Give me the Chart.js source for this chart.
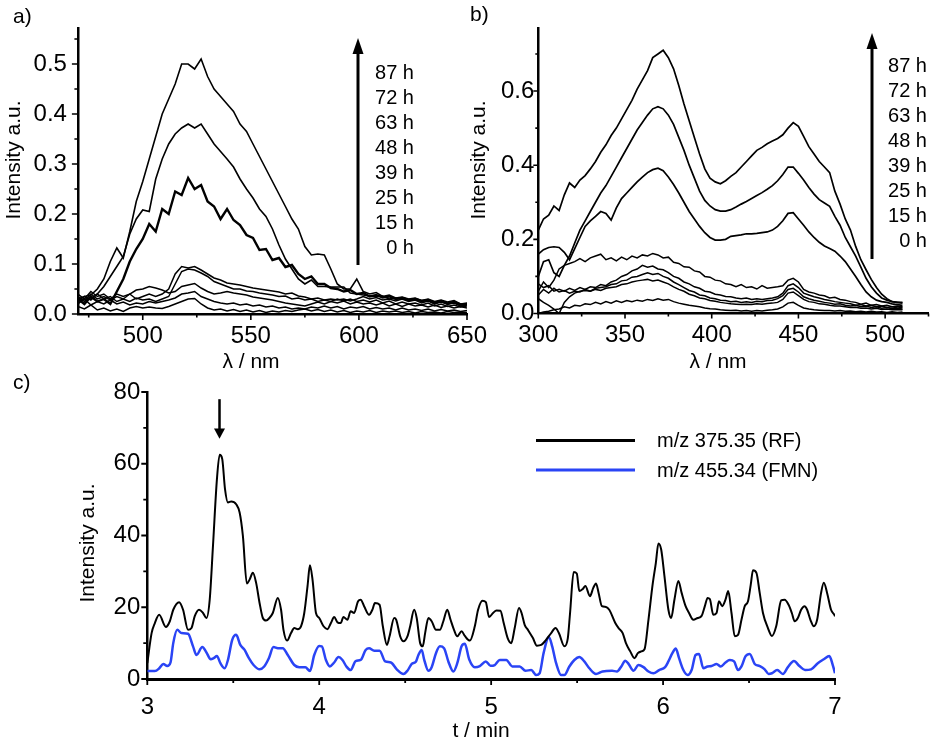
<!DOCTYPE html>
<html><head><meta charset="utf-8">
<script src="https://cdn.jsdelivr.net/npm/chart.js@4.4.1/dist/chart.umd.min.js"></script>
<style>
html,body{margin:0;padding:0;background:#fff;width:933px;height:742px;overflow:hidden;position:relative;}
canvas{position:absolute;}
.t{position:absolute;font-family:"Liberation Sans",Arial,sans-serif;color:#000;white-space:nowrap;line-height:1;}
.c{transform:translate(-50%,-50%);}
.r{transform:translate(-50%,-50%) rotate(-90deg);}
.lab{position:absolute;font-family:"Liberation Sans",Arial,sans-serif;font-size:20px;line-height:25px;text-align:right;}
svg{position:absolute;left:0;top:0;}
</style></head><body>
<canvas id="ca" width="500" height="380" style="left:0;top:0"></canvas>
<canvas id="cb" width="473" height="380" style="left:460px;top:0"></canvas>
<canvas id="cc" width="933" height="372" style="left:0;top:370px"></canvas>
<svg width="933" height="742">
  <line x1="358" y1="265" x2="358" y2="50" stroke="#000" stroke-width="3"/>
  <polygon points="358,38 352.5,54 363.5,54" fill="#000"/>
  <line x1="872" y1="259" x2="872" y2="45" stroke="#000" stroke-width="3"/>
  <polygon points="872,33 866.5,49 877.5,49" fill="#000"/>
  <line x1="536" y1="440.5" x2="635" y2="440.5" stroke="#000" stroke-width="3"/>
  <line x1="536" y1="470" x2="635" y2="470" stroke="#2a44f5" stroke-width="3"/>
</svg>
<div class="t" style="left:13px;top:5px;font-size:21px">a)</div>
<div class="t" style="left:470px;top:3px;font-size:21px">b)</div>
<div class="t" style="left:13px;top:371px;font-size:21px">c)</div>
<div class="t r" style="left:12px;top:160px;font-size:21px">Intensity a.u.</div>
<div class="t r" style="left:477px;top:160px;font-size:21px">Intensity a.u.</div>
<div class="t r" style="left:86px;top:543px;font-size:21px">Intensity a.u.</div>
<div class="t c" style="left:251px;top:360px;font-size:21px">λ / nm</div>
<div class="t c" style="left:718px;top:360px;font-size:21px">λ / nm</div>
<div class="t c" style="left:481px;top:729px;font-size:21px">t / min</div>
<div class="lab" style="left:0;width:414px;top:59.5px">87 h<br>72 h<br>63 h<br>48 h<br>39 h<br>25 h<br>15 h<br>0 h</div>
<div class="lab" style="left:460px;width:467px;top:53px">87 h<br>72 h<br>63 h<br>48 h<br>39 h<br>25 h<br>15 h<br>0 h</div>
<div class="t" style="left:657px;top:430px;font-size:20px">m/z 375.35 (RF)</div>
<div class="t" style="left:657px;top:460px;font-size:20px">m/z 455.34 (FMN)</div>
<script>
// ---------- Panel a: emission spectra ----------
const lambdaA = [470,473,476,479,482,485,488,491,494,497,500,503,506,509,512,515,518,521,524,527,530,533,536,539,542,545,548,551,554,557,560,563,566,569,572,575,578,581,584,587,590,593,596,599,602,605,608,611,614,617,620,623,626,629,632,635,638,641,644,647,650];
const a87 = [0.03,0.035,0.038,0.05,0.07,0.105,0.132,0.112,0.165,0.225, 0.265,0.31,0.355,0.40,0.43,0.46,0.50,0.50,0.49,0.51, 0.475,0.45,0.435,0.42,0.405,0.38,0.365,0.34,0.315,0.29, 0.265,0.24,0.215,0.19,0.17,0.135,0.118,0.12,0.118,0.09, 0.06,0.05,0.05,0.07,0.045,0.04,0.043,0.035,0.038,0.032, 0.034,0.03,0.032,0.027,0.03,0.025,0.028,0.024,0.027,0.02,0.022];
const a72 = [0.025,0.03,0.03,0.04,0.055,0.075,0.095,0.115,0.16,0.19, 0.208,0.205,0.27,0.31,0.34,0.36,0.372,0.38,0.372,0.38, 0.36,0.34,0.325,0.31,0.294,0.27,0.25,0.232,0.21,0.195, 0.17,0.138,0.11,0.09,0.07,0.06,0.068,0.055,0.055,0.054, 0.054,0.054,0.042,0.04,0.038,0.036,0.035,0.036,0.03,0.032, 0.03,0.028,0.03,0.026,0.028,0.024,0.026,0.022,0.025,0.02,0.02];
const a63 = [0.03,0.02,0.035,0.025,0.03,0.02,0.045,0.07,0.105,0.13, 0.15,0.18,0.165,0.21,0.2,0.245,0.238,0.272,0.25,0.258, 0.225,0.215,0.19,0.21,0.188,0.178,0.158,0.152,0.128,0.13, 0.108,0.112,0.094,0.098,0.08,0.07,0.075,0.06,0.06,0.052, 0.05,0.045,0.048,0.04,0.042,0.035,0.038,0.033,0.035,0.03, 0.032,0.028,0.03,0.026,0.028,0.022,0.026,0.02,0.024,0.018,0.02];
const a48 = [0.04,0.03,0.045,0.035,0.04,0.03,0.04,0.035,0.04,0.03, 0.035,0.04,0.035,0.04,0.05,0.08,0.095,0.092,0.095,0.088, 0.08,0.072,0.068,0.062,0.06,0.058,0.055,0.052,0.05,0.048, 0.046,0.044,0.04,0.042,0.036,0.034,0.03,0.032,0.028,0.03, 0.028,0.03,0.026,0.03,0.035,0.03,0.033,0.028,0.03,0.026, 0.03,0.025,0.028,0.022,0.026,0.02,0.024,0.02,0.022,0.016,0.018];
const a39 = [0.025,0.035,0.028,0.04,0.03,0.035,0.025,0.03,0.025,0.032, 0.028,0.03,0.025,0.03,0.035,0.06,0.085,0.09,0.088,0.082, 0.075,0.065,0.06,0.055,0.05,0.05,0.046,0.045,0.042,0.04, 0.038,0.035,0.036,0.03,0.032,0.028,0.03,0.025,0.028,0.025, 0.03,0.026,0.03,0.025,0.028,0.024,0.028,0.022,0.026,0.02, 0.024,0.02,0.022,0.018,0.022,0.016,0.02,0.015,0.018,0.014,0.016];
const a25 = [0.035,0.025,0.04,0.03,0.035,0.028,0.035,0.03,0.04,0.048, 0.05,0.055,0.052,0.048,0.042,0.045,0.055,0.058,0.061,0.052, 0.045,0.04,0.042,0.045,0.042,0.04,0.038,0.034,0.032,0.03, 0.028,0.025,0.022,0.02,0.018,0.016,0.02,0.024,0.02,0.025, 0.022,0.026,0.02,0.024,0.02,0.022,0.018,0.022,0.016,0.02, 0.015,0.02,0.016,0.018,0.014,0.018,0.013,0.016,0.012,0.015,0.012];
const a15 = [0.02,0.03,0.018,0.025,0.02,0.028,0.02,0.024,0.018,0.022, 0.02,0.025,0.022,0.025,0.028,0.032,0.04,0.042,0.045,0.035, 0.03,0.025,0.022,0.02,0.022,0.018,0.02,0.016,0.018,0.014, 0.016,0.012,0.014,0.01,0.012,0.01,0.014,0.012,0.016,0.012, 0.015,0.01,0.014,0.012,0.015,0.01,0.013,0.01,0.012,0.008, 0.012,0.008,0.01,0.007,0.01,0.006,0.009,0.006,0.008,0.005,0.007];
const a0 = [0.015,0.01,0.018,0.008,0.012,0.006,0.01,0.005,0.012,0.015, 0.012,0.014,0.012,0.011,0.015,0.02,0.025,0.03,0.031,0.02, 0.012,0.008,0.01,0.006,0.009,0.005,0.008,0.004,0.007,0.003, 0.006,0.004,0.007,0.005,0.008,0.01,0.006,0.009,0.005,0.008, 0.004,0.007,0.003,0.006,0.004,0.007,0.003,0.006,0.004,0.006, 0.003,0.005,0.002,0.005,0.003,0.004,0.002,0.005,0.003,0.004,0.003];

// ---------- Panel b: excitation spectra ----------
const lambdaB = [300,303,306,309,312,315,318,321,324,327,330,333,336,339,342,345,348,351,354,357,360,363,366,369,372,375,378,381,384,387,390,393,396,399,402,405,408,411,414,417,420,423,426,429,432,435,438,441,444,447,450,453,456,459,462,465,468,471,474,477,480,483,486,489,492,495,498,501,504,507,510];
const b87 = [0.225,0.255,0.265,0.29,0.278,0.32,0.352,0.34,0.36,0.372, 0.39,0.41,0.435,0.455,0.48,0.5,0.525,0.55,0.575,0.605, 0.63,0.655,0.69,0.7,0.71,0.69,0.66,0.615,0.565,0.52, 0.475,0.43,0.39,0.365,0.355,0.35,0.358,0.37,0.38,0.395, 0.41,0.425,0.44,0.448,0.458,0.465,0.472,0.482,0.5,0.515, 0.505,0.478,0.45,0.43,0.41,0.395,0.38,0.33,0.295,0.255, 0.225,0.181,0.145,0.118,0.092,0.07,0.052,0.04,0.032,0.03,0.028];
const b72 = [0.10,0.14,0.145,0.11,0.10,0.13,0.155,0.19,0.225,0.25, 0.275,0.3,0.325,0.345,0.37,0.395,0.42,0.445,0.47,0.495, 0.515,0.535,0.552,0.558,0.552,0.535,0.51,0.475,0.44,0.4, 0.365,0.33,0.305,0.29,0.28,0.276,0.276,0.28,0.287,0.295, 0.302,0.31,0.318,0.326,0.335,0.345,0.358,0.375,0.395,0.395, 0.378,0.36,0.34,0.322,0.307,0.298,0.289,0.262,0.238,0.205, 0.18,0.155,0.125,0.095,0.072,0.055,0.042,0.036,0.032,0.03,0.03];
const b63 = [0.16,0.172,0.178,0.18,0.178,0.165,0.145,0.175,0.205,0.235, 0.25,0.262,0.275,0.27,0.252,0.285,0.31,0.325,0.34,0.355, 0.368,0.38,0.388,0.392,0.385,0.368,0.348,0.325,0.3,0.275, 0.255,0.235,0.218,0.205,0.198,0.198,0.2,0.208,0.21,0.212, 0.215,0.215,0.216,0.218,0.22,0.225,0.235,0.25,0.27,0.272, 0.255,0.238,0.22,0.205,0.192,0.182,0.175,0.168,0.155,0.14, 0.12,0.1,0.078,0.058,0.045,0.036,0.032,0.03,0.026,0.024,0.022];
const b48 = [0.06,0.085,0.07,0.09,0.12,0.13,0.135,0.14,0.148,0.14, 0.15,0.155,0.16,0.145,0.15,0.142,0.152,0.145,0.155,0.15, 0.158,0.155,0.162,0.158,0.15,0.152,0.138,0.135,0.126,0.125, 0.115,0.112,0.1,0.098,0.09,0.088,0.08,0.078,0.072,0.078, 0.07,0.072,0.066,0.075,0.068,0.07,0.072,0.075,0.09,0.095, 0.085,0.065,0.058,0.055,0.05,0.048,0.042,0.044,0.038,0.036, 0.032,0.03,0.025,0.028,0.022,0.024,0.02,0.022,0.018,0.02,0.018];
const b39 = [0.08,0.07,0.075,0.06,0.065,0.06,0.068,0.062,0.07,0.065, 0.072,0.07,0.078,0.075,0.085,0.09,0.1,0.105,0.115,0.12, 0.13,0.125,0.128,0.12,0.118,0.11,0.1,0.095,0.085,0.08, 0.072,0.068,0.06,0.058,0.052,0.05,0.046,0.045,0.042,0.04, 0.042,0.038,0.04,0.038,0.04,0.042,0.045,0.055,0.075,0.08, 0.07,0.055,0.05,0.045,0.042,0.038,0.035,0.032,0.03,0.028, 0.026,0.022,0.024,0.02,0.022,0.018,0.02,0.016,0.018,0.015,0.016];
const b25 = [0.05,0.065,0.055,0.068,0.058,0.062,0.055,0.06,0.058,0.065, 0.06,0.068,0.07,0.072,0.078,0.08,0.088,0.09,0.098,0.1, 0.105,0.11,0.105,0.108,0.1,0.095,0.085,0.078,0.07,0.062, 0.058,0.05,0.048,0.042,0.04,0.036,0.035,0.032,0.033,0.03, 0.032,0.03,0.033,0.032,0.035,0.036,0.04,0.048,0.065,0.068, 0.058,0.045,0.04,0.036,0.033,0.03,0.028,0.025,0.026,0.022, 0.02,0.022,0.018,0.02,0.016,0.018,0.014,0.016,0.013,0.014,0.012];
const b15 = [0.04,0.03,0.022,0.012,0.0,0.03,0.045,0.055,0.06,0.062, 0.06,0.065,0.062,0.068,0.07,0.072,0.078,0.08,0.085,0.088, 0.09,0.092,0.088,0.09,0.085,0.08,0.072,0.065,0.06,0.052, 0.048,0.042,0.04,0.035,0.033,0.03,0.028,0.026,0.025,0.024, 0.025,0.024,0.026,0.025,0.027,0.028,0.03,0.038,0.055,0.058, 0.048,0.038,0.032,0.03,0.026,0.025,0.022,0.02,0.02,0.018, 0.016,0.017,0.014,0.015,0.012,0.014,0.011,0.012,0.01,0.011,0.01];
const b0 = [0.0,0.004,0.006,0.01,0.012,0.018,0.015,0.022,0.02,0.026, 0.024,0.03,0.026,0.032,0.028,0.034,0.03,0.035,0.032,0.036, 0.033,0.038,0.035,0.04,0.036,0.038,0.032,0.028,0.025,0.022, 0.02,0.018,0.015,0.013,0.012,0.01,0.009,0.008,0.009,0.007, 0.008,0.006,0.008,0.007,0.009,0.01,0.012,0.018,0.028,0.03, 0.022,0.015,0.012,0.01,0.009,0.008,0.008,0.007,0.008,0.006, 0.007,0.005,0.006,0.004,0.006,0.004,0.005,0.003,0.005,0.003,0.004];

// ---------- Panel c: LC-MS traces ----------
const rfT = [3.000,3.025,3.044,3.069,3.108,3.131,3.151,3.185,3.208,3.237,3.257,3.276,3.301,3.324,3.344,3.363,3.382,3.405,3.421,3.436,3.452,3.469,3.488,3.517,3.537,3.556,3.579,3.595,3.614,3.633,3.653,3.672,3.691,3.710,3.730,3.759,3.778,3.792,3.813,3.836,3.855,3.875,3.894,3.913,3.932,3.946,3.961,3.981,4.000,4.025,4.048,4.068,4.087,4.106,4.125,4.141,4.164,4.183,4.203,4.226,4.241,4.261,4.290,4.309,4.324,4.351,4.370,4.394,4.409,4.436,4.448,4.471,4.490,4.513,4.529,4.552,4.567,4.587,4.602,4.616,4.635,4.654,4.679,4.702,4.722,4.745,4.764,4.784,4.803,4.828,4.847,4.876,4.905,4.924,4.950,4.969,4.988,5.011,5.031,5.054,5.073,5.096,5.117,5.137,5.162,5.177,5.195,5.214,5.243,5.266,5.291,5.316,5.349,5.374,5.394,5.426,5.446,5.459,5.480,5.498,5.513,5.533,5.548,5.575,5.594,5.610,5.625,5.644,5.668,5.687,5.722,5.741,5.765,5.784,5.809,5.834,5.853,5.873,5.892,5.915,5.938,5.958,5.973,5.989,6.008,6.031,6.047,6.066,6.089,6.108,6.131,6.151,6.176,6.201,6.224,6.243,6.259,6.272,6.292,6.311,6.325,6.344,6.363,6.379,6.398,6.417,6.436,6.456,6.475,6.494,6.510,6.523,6.543,6.562,6.581,6.610,6.633,6.658,6.687,6.707,6.730,6.749,6.765,6.784,6.803,6.823,6.838,6.857,6.877,6.896,6.919,6.935,6.954,6.977,6.996,7.000];
const rfV = [4.4,12.8,15.6,17.9,14.5,16.1,19.3,21.4,19.3,13.7,14.2,17.5,19.3,18.4,17.0,22.1,37.1,55.7,62.5,61.3,52.9,49.2,49.5,48.7,46.4,39.9,26.6,27.7,29.6,26.8,21.2,17.0,16.3,17.0,18.4,22.6,19.3,13.7,10.7,12.8,14.2,13.9,14.7,18.4,25.9,31.7,27.7,18.4,17.0,14.7,13.9,15.6,17.3,15.8,15.6,17.3,16.5,18.9,18.4,21.7,22.1,20.3,17.9,19.3,21.2,20.7,14.7,9.5,11.9,17.0,16.5,11.9,10.5,11.9,14.7,19.3,17.0,10.0,9.1,12.8,17.0,16.1,13.7,13.7,16.1,19.3,16.5,13.7,11.9,13.3,12.0,10.7,14.7,19.3,21.8,21.4,17.3,18.4,19.1,19.0,15.6,11.4,10.0,14.2,19.8,18.4,15.1,13.7,11.4,9.3,9.5,10.7,12.8,14.2,12.8,9.1,11.4,18.4,29.8,29.4,24.5,25.1,25.9,23.1,25.4,26.6,24.0,20.3,20.1,19.3,15.6,14.2,12.8,10.0,7.7,5.8,7.2,7.7,8.3,16.5,25.9,32.4,37.8,36.1,28.7,19.3,17.0,22.1,27.3,24.0,20.3,18.4,16.5,17.0,17.6,20.3,22.6,22.3,17.9,18.4,21.7,20.3,22.1,24.5,18.4,11.9,12.3,16.5,20.3,21.7,26.3,30.3,29.6,24.0,18.4,14.2,12.0,14.7,21.9,22.1,20.7,18.4,16.1,17.0,19.3,20.3,19.3,16.5,14.7,16.5,24.0,26.8,24.0,19.3,17.9,17.5];
const fmnT = [3.000,3.044,3.070,3.093,3.116,3.135,3.151,3.174,3.199,3.237,3.266,3.286,3.320,3.344,3.369,3.386,3.405,3.425,3.450,3.469,3.494,3.517,3.541,3.566,3.591,3.618,3.653,3.680,3.707,3.734,3.759,3.788,3.817,3.855,3.884,3.919,3.946,3.971,4.000,4.015,4.039,4.062,4.087,4.112,4.135,4.158,4.183,4.212,4.241,4.270,4.290,4.320,4.351,4.384,4.417,4.451,4.490,4.513,4.538,4.563,4.577,4.596,4.610,4.635,4.654,4.679,4.702,4.726,4.751,4.780,4.803,4.828,4.847,4.872,4.905,4.934,4.969,4.996,5.021,5.050,5.088,5.123,5.166,5.200,5.233,5.262,5.282,5.305,5.336,5.355,5.378,5.407,5.426,5.455,5.484,5.513,5.542,5.571,5.610,5.648,5.703,5.732,5.757,5.780,5.799,5.828,5.857,5.886,5.915,5.944,5.977,6.012,6.031,6.054,6.074,6.093,6.118,6.143,6.166,6.189,6.209,6.234,6.259,6.282,6.311,6.336,6.363,6.388,6.413,6.436,6.456,6.479,6.504,6.533,6.562,6.591,6.614,6.633,6.664,6.697,6.726,6.761,6.793,6.826,6.861,6.900,6.935,6.967,6.987,7.000];
const fmnV = [2.2,2.2,3.0,4.2,3.6,4.6,10.0,13.7,12.8,12.6,9.1,6.7,8.9,7.4,5.5,5.8,6.4,4.4,3.0,5.3,10.9,12.3,9.5,8.1,5.8,3.9,2.7,3.5,5.8,8.9,8.6,8.6,6.7,3.9,3.3,3.3,2.2,6.7,9.2,9.1,5.3,3.5,4.6,6.1,5.3,3.5,2.5,5.0,5.3,8.1,8.6,7.9,7.9,4.9,4.6,2.7,1.4,2.3,4.2,4.9,6.7,8.1,5.5,2.3,3.3,7.2,9.1,8.6,4.9,2.1,4.4,9.1,9.8,5.5,3.3,3.6,4.9,3.7,3.9,5.3,5.3,3.5,3.5,2.3,2.5,1.1,1.6,7.2,11.7,9.1,4.4,1.1,1.1,3.5,5.3,6.1,4.9,3.0,1.4,2.1,2.3,2.1,3.5,5.1,4.2,2.3,3.9,3.3,2.1,1.6,2.5,3.3,4.9,7.2,8.5,5.8,2.5,1.1,2.5,6.7,7.0,3.0,3.5,3.6,4.2,3.5,4.6,5.3,4.9,2.5,3.5,6.3,7.0,4.2,3.6,2.7,1.4,1.6,2.5,1.4,3.3,5.0,3.6,2.5,2.7,4.4,5.5,6.4,3.9,1.6];
const arrowT = 3.42;

// ---------- drawing ----------
Chart.defaults.font.family = '"Liberation Sans", Arial, sans-serif';
Chart.defaults.color = '#000';

const axisTicks = {
  id: 'axisTicks',
  afterDraw(chart, args, o) {
    const {ctx} = chart; const x = chart.scales.x, y = chart.scales.y;
    ctx.save(); ctx.strokeStyle = '#000'; ctx.lineWidth = o.w; ctx.beginPath();
    const isMaj = (v, M) => Math.abs(v / M - Math.round(v / M)) < 1e-6;
    for (let k = Math.ceil(x.min / o.xs - 1e-9); k * o.xs <= x.max + 1e-9; k++) {
      const v = k * o.xs, px = x.getPixelForValue(v);
      ctx.moveTo(px, x.top); ctx.lineTo(px, x.top + (isMaj(v, o.xM) ? o.L : o.l));
    }
    for (let k = Math.ceil(y.min / o.ys - 1e-9); k * o.ys <= y.max + 1e-9; k++) {
      const v = k * o.ys, py = y.getPixelForValue(v);
      ctx.moveTo(y.right, py); ctx.lineTo(y.right - (isMaj(v, o.yM) ? o.L : o.l), py);
    }
    ctx.stroke();
    if (o.arrow) {
      const px = x.getPixelForValue(o.arrow.t);
      const y1 = y.getPixelForValue(o.arrow.top), y2 = y.getPixelForValue(o.arrow.base), y3 = y.getPixelForValue(o.arrow.tip);
      ctx.lineWidth = 2.5; ctx.beginPath(); ctx.moveTo(px, y1); ctx.lineTo(px, y2 + 2); ctx.stroke();
      ctx.fillStyle = '#000'; ctx.beginPath(); ctx.moveTo(px - 5.5, y2); ctx.lineTo(px + 5.5, y2); ctx.lineTo(px, y3); ctx.closePath(); ctx.fill();
    }
    ctx.restore();
  }
};

function pts(xs, ys) { return xs.map((v, i) => ({x: v, y: ys[i]})); }
function ds(xs, ys, w, color, tension) {
  return {data: pts(xs, ys), borderColor: color || '#000', borderWidth: w, pointRadius: 0, tension: tension || 0, cubicInterpolationMode: tension ? 'monotone' : 'default', fill: false};
}

function makeChart(id, datasets, cfg) {
  return new Chart(document.getElementById(id), {
    type: 'line',
    data: {datasets},
    options: {
      responsive: false, animation: false, devicePixelRatio: 1,
      layout: {padding: cfg.pad},
      plugins: {legend: {display: false}, tooltip: {enabled: false}, axisTicks: cfg.ticks},
      scales: {
        x: {type: 'linear', min: cfg.xmin, max: cfg.xmax,
            grid: {display: false, drawTicks: false},
            border: {display: true, color: '#000', width: cfg.bx},
            ticks: {stepSize: cfg.xstep, includeBounds: false, autoSkip: false, maxRotation: 0, padding: cfg.xpad, font: {size: 24}, callback: cfg.xfmt},
            afterFit: s => { s.height = cfg.xh; }},
        y: {type: 'linear', min: 0, max: cfg.ymax,
            grid: {display: false, drawTicks: false},
            border: {display: true, color: '#000', width: cfg.by},
            ticks: {stepSize: cfg.ystep, includeBounds: false, autoSkip: false, padding: cfg.ypad, font: {size: 24}, callback: cfg.yfmt},
            afterFit: s => { s.width = cfg.yw; }}
      }
    },
    plugins: [axisTicks]
  });
}

makeChart('ca', [
  ds(lambdaA, a87, 1.6), ds(lambdaA, a72, 1.6), ds(lambdaA, a63, 2.4), ds(lambdaA, a48, 1.5),
  ds(lambdaA, a39, 1.5), ds(lambdaA, a25, 1.5), ds(lambdaA, a15, 1.5), ds(lambdaA, a0, 1.5)
], {pad: {left: 0, top: 28, right: 33, bottom: 0}, xmin: 470, xmax: 650, xstep: 50, ymax: 0.572, ystep: 0.1,
    xh: 66, yw: 77.9, xpad: 7.5, ypad: 11, bx: 2.5, by: 2.5,
    xfmt: v => String(v), yfmt: v => v.toFixed(1),
    ticks: {w: 1.6, xs: 25, xM: 50, ys: 0.05, yM: 0.1, L: 6, l: 3.5}});

makeChart('cb', [
  ds(lambdaB, b87, 1.7), ds(lambdaB, b72, 1.7), ds(lambdaB, b63, 1.7), ds(lambdaB, b48, 1.5),
  ds(lambdaB, b39, 1.5), ds(lambdaB, b25, 1.5), ds(lambdaB, b15, 1.5), ds(lambdaB, b0, 1.5)
], {pad: {left: 0, top: 28, right: 4.5, bottom: 0}, xmin: 300, xmax: 525, xstep: 50, ymax: 0.77, ystep: 0.2,
    xh: 66.5, yw: 78.3, xpad: 7.5, ypad: 4, bx: 2.5, by: 2.5,
    xfmt: v => String(v), yfmt: v => v.toFixed(1),
    ticks: {w: 1.6, xs: 25, xM: 50, ys: 0.1, yM: 0.2, L: 5, l: 3}});

makeChart('cc', [
  ds(rfT, rfV, 2.0, '#000', 0.3), ds(fmnT, fmnV, 2.5, '#2a44f5', 0.3)
], {pad: {left: 0, top: 22, right: 98, bottom: 0}, xmin: 3, xmax: 7, xstep: 1, ymax: 80, ystep: 20,
    xh: 63, yw: 147.3, xpad: 14, ypad: 7, bx: 3, by: 2.5,
    xfmt: v => String(v), yfmt: v => String(v),
    ticks: {w: 1.8, xs: 0.5, xM: 1, ys: 10, yM: 20, L: 6, l: 4, arrow: {t: arrowT, top: 78, base: 69.8, tip: 67}}});
</script>
</body></html>
